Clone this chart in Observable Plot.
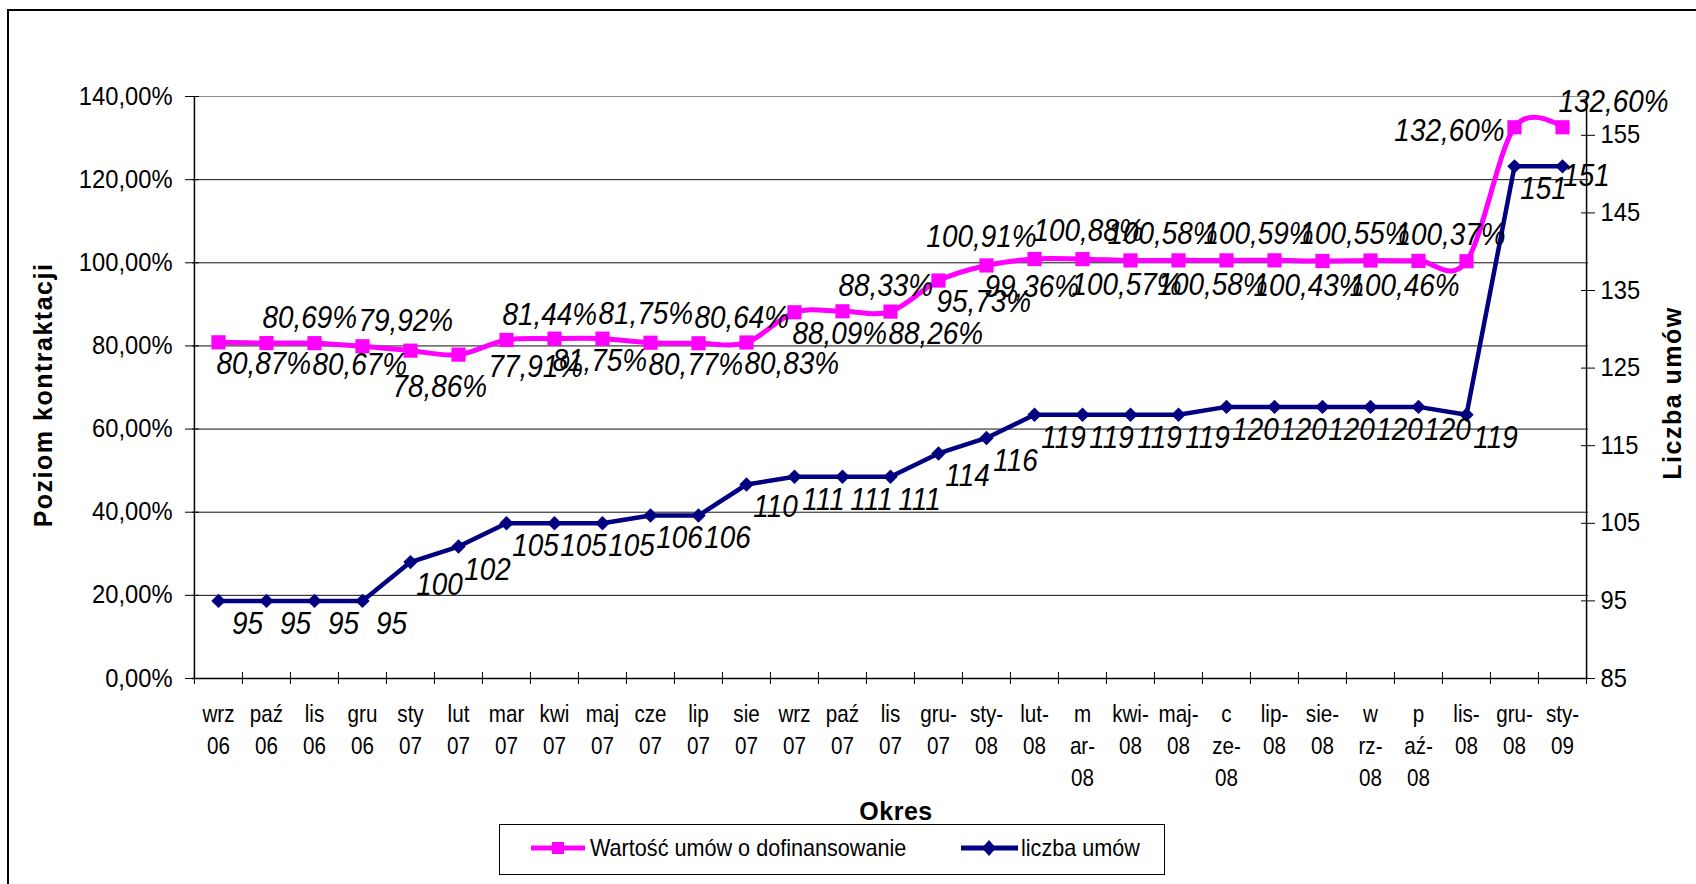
<!DOCTYPE html>
<html><head><meta charset="utf-8">
<script src="https://cdn.jsdelivr.net/npm/d3@7"></script>
<script src="https://cdn.jsdelivr.net/npm/@observablehq/plot@0.6"></script>
<style>
body{margin:0;background:#fff;font-family:"Liberation Sans",Arial,sans-serif;}
#wrap{position:relative;width:1696px;height:884px;overflow:hidden;background:#fff;}
#border{position:absolute;left:7px;top:9px;width:1800px;height:1000px;border-left:2px solid #000;border-top:2px solid #000;}
#chart{position:absolute;left:0;top:0;}
.title{position:absolute;font-weight:bold;font-size:25px;color:#000;white-space:nowrap;transform:translate(-50%,-50%);}
.rot{transform:translate(-50%,-50%) rotate(-90deg);}
#legend{position:absolute;left:499px;top:824px;width:664px;height:49px;border:1px solid #000;background:#fff;}
</style></head>
<body>
<div id="wrap">
  <div id="border"></div>
  <div id="chart"></div>
  <div class="title rot" style="left:43px;top:395px;letter-spacing:1.5px;">Poziom kontraktacji</div>
  <div class="title rot" style="left:1672px;top:393px;letter-spacing:1.5px;">Liczba umów</div>
  <div class="title" style="left:896px;top:811px;letter-spacing:0.5px;">Okres</div>
  <div id="legend">
    <svg width="664" height="49" style="position:absolute;left:0;top:0;">
      <line x1="31" x2="85" y1="23" y2="23" stroke="#FF00FF" stroke-width="5"/>
      <rect x="52" y="17" width="12" height="12" fill="#FF00FF"/>
      <text transform="translate(90,31) scale(0.94,1)" font-size="23" font-family="Liberation Sans, Arial, sans-serif">Wartość umów o dofinansowanie</text>
      <line x1="461" x2="518" y1="23" y2="23" stroke="#000080" stroke-width="5"/>
      <path d="M489,15 L496,23 L489,31 L482,23 Z" fill="#000080"/>
      <text transform="translate(521,31) scale(0.94,1)" font-size="23" font-family="Liberation Sans, Arial, sans-serif">liczba umów</text>
    </svg>
  </div>
</div>
<script>
// ---- data ----
const months = ["wrz 06","paź 06","lis 06","gru 06","sty 07","lut 07","mar 07","kwi 07","maj 07","cze 07","lip 07","sie 07","wrz 07","paź 07","lis 07","gru-07","sty-08","lut-08","mar-08","kwi-08","maj-08","cze-08","lip-08","sie-08","wrz-08","paź-08","lis-08","gru-08","sty-09"];
const tickLabels = ["wrz\n06","paź\n06","lis\n06","gru\n06","sty\n07","lut\n07","mar\n07","kwi\n07","maj\n07","cze\n07","lip\n07","sie\n07","wrz\n07","paź\n07","lis\n07","gru-\n07","sty-\n08","lut-\n08","m\nar-\n08","kwi-\n08","maj-\n08","c\nze-\n08","lip-\n08","sie-\n08","w\nrz-\n08","p\naź-\n08","lis-\n08","gru-\n08","sty-\n09"];
const wartosc = [80.87,80.69,80.67,79.92,78.86,77.91,81.44,81.75,81.75,80.77,80.64,80.83,88.09,88.33,88.26,95.73,99.36,100.91,100.88,100.57,100.58,100.58,100.59,100.43,100.55,100.46,100.37,132.60,132.60];
const liczba = [95,95,95,95,100,102,105,105,105,106,106,110,111,111,111,114,116,119,119,119,119,120,120,120,120,120,119,151,151];
// where each data label of the first series sits relative to its point
const labelSide = ["b","a","b","a","bl","br","a","b","a","b","a","b","b","a","b","b","b","al","a0","b0","ac","bc","ac","bc","ac","bc","ac","l","a"];
const leftTicks = [0,20,40,60,80,100,120,140];
const rightTicks = [85,95,105,115,125,135,145,155];

// ---- layout ----
const W = 1696, H = 884, mL = 192, mR = 108, mT = 96, mB = 206;
const frameW = W - mL - mR;
const halfStep = frameW / months.length / 2;
const rMin = 85, rMax = 160;
const toLeft = v => (v - rMin) / (rMax - rMin) * 140;
const fmtPct = v => v.toFixed(2).replace(".", ",") + "%";

const rowsP = months.map((m, i) => ({m, v: wartosc[i], side: labelSide[i], label: fmtPct(wartosc[i])}));
const rowsN = months.map((m, i) => ({m, n: liczba[i], y: toLeft(liczba[i])}));
const FONT = "Liberation Sans, Arial, sans-serif";

const sideStyle = {
  a:  {textAnchor: "start",  dx: -4,  dy: -25},
  b:  {textAnchor: "start",  dx: -2,  dy: 22},
  a0: {textAnchor: "middle", dx: 6,   dy: -28},
  b0: {textAnchor: "middle", dx: -4,  dy: 25},
  ac: {textAnchor: "middle", dx: -16, dy: -26},
  bc: {textAnchor: "middle", dx: -14, dy: 25},
  al: {textAnchor: "end",    dx: 2,   dy: -22},
  l:  {textAnchor: "end",    dx: -10, dy: 4},
  bl: {textAnchor: "start",  dx: -18, dy: 36},
  br: {textAnchor: "start",  dx: 30,  dy: 12}
};
const LABEL_FS = 31;
const labelMarks = Object.entries(sideStyle).map(([k, s]) =>
  Plot.text(rowsP.filter(d => d.side === k), {x: "m", y: "v", text: "label", ...s, fontSize: LABEL_FS, fontStyle: "italic"}));

const plot = Plot.plot({
  width: W, height: H,
  marginLeft: mL, marginRight: mR, marginTop: mT, marginBottom: mB,
  style: {fontFamily: FONT, background: "transparent", color: "#000", overflow: "visible"},
  x: {type: "point", domain: months, padding: 0.5, axis: null},
  y: {domain: [0, 140], axis: null},
  marks: [
    Plot.gridY(leftTicks, {stroke: d => d === 140 ? "#8a8a8a" : "#111", strokeOpacity: 1, strokeWidth: 1}),
    // axis lines
    Plot.ruleY([0], {stroke: "#000", strokeWidth: 1.5}),
    Plot.ruleX([months[0]], {x: d => d, y1: 0, y2: 140, dx: -halfStep, stroke: "#000", strokeWidth: 1.5}),
    Plot.ruleX([months[months.length - 1]], {x: d => d, y1: 0, y2: 140, dx: halfStep, stroke: "#000", strokeWidth: 1.5}),
    // x tick marks at category boundaries
    Plot.ruleX(months, {x: d => d, y1: 0, y2: 0, dx: -halfStep, insetTop: -6, insetBottom: -6, stroke: "#000"}),
    Plot.ruleX([months[months.length - 1]], {x: d => d, y1: 0, y2: 0, dx: halfStep, insetTop: -6, insetBottom: -6, stroke: "#000"}),
    // y tick marks
    Plot.ruleY(leftTicks, {y: d => d, insetLeft: -7, insetRight: frameW - 7, stroke: "#000"}),
    Plot.ruleY(rightTicks.map(toLeft), {y: d => d, insetLeft: frameW - 7, insetRight: -7, stroke: "#000"}),
    // axes labels
    Plot.axisY({ticks: leftTicks, anchor: "left", tickSize: 0, tickPadding: 20, tickFormat: d => d.toFixed(2).replace(".", ",") + "%", fontSize: 25, label: null}),
    Plot.axisY({ticks: rightTicks.map(toLeft), anchor: "right", tickSize: 0, tickPadding: 12, tickFormat: d => String(Math.round(d / 140 * (rMax - rMin) + rMin)), fontSize: 25, label: null}),
    Plot.text(months, {x: d => d, text: (d, i) => tickLabels[i], frameAnchor: "bottom", lineAnchor: "top", dy: 21, lineHeight: 1.33, fontSize: 24}),
    // series
    Plot.line(rowsP, {x: "m", y: "v", stroke: "#FF00FF", strokeWidth: 5, curve: "cardinal"}),
    Plot.dot(rowsP, {x: "m", y: "v", symbol: "square", fill: "#FF00FF", r: 8}),
    Plot.line(rowsN, {x: "m", y: "y", stroke: "#000080", strokeWidth: 4.5}),
    Plot.dot(rowsN, {x: "m", y: "y", symbol: "diamond2", fill: "#000080", r: 6.5}),
    // data labels
    ...labelMarks,
    Plot.text(rowsN.slice(0, -1), {x: "m", y: "y", text: d => String(d.n), textAnchor: "middle", dx: 29, dy: 23, fontSize: LABEL_FS, fontStyle: "italic"}),
    Plot.text(rowsN.slice(-1), {x: "m", y: "y", text: d => String(d.n), textAnchor: "middle", dx: 24, dy: 10, fontSize: LABEL_FS, fontStyle: "italic"})
  ]
});

// narrow the glyphs horizontally (the reference text is taller than it is wide)
function squeeze(sel, k) {
  sel.each(function() {
    const t = this.getAttribute("transform") || "";
    this.setAttribute("transform", `${t} scale(${k},1)`);
  });
}
const svg = d3.select(plot);
squeeze(svg.selectAll(`g[font-size="${LABEL_FS}"] > text`), 0.9);
squeeze(svg.selectAll(`g[font-size="24"] > text`), 0.86);
squeeze(svg.selectAll(`g[font-size="25"] > text`), 0.95);
document.getElementById("chart").appendChild(plot);
</script>
</body></html>
